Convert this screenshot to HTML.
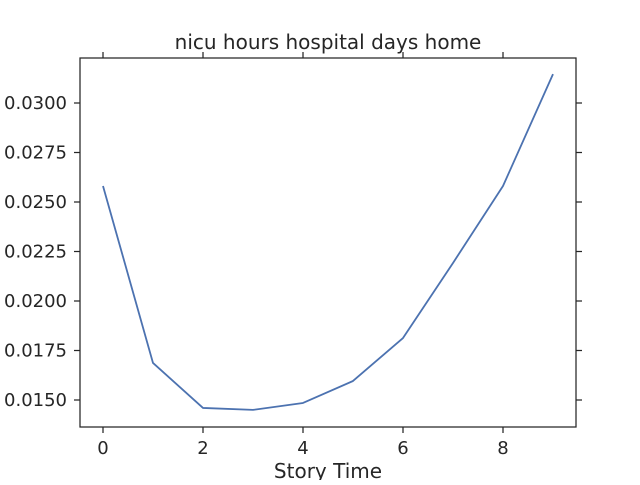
<!DOCTYPE html>
<html><head><meta charset="utf-8"><style>
html,body{margin:0;padding:0;background:#fff;}
svg text{font-family:"DejaVu Sans","Liberation Sans",sans-serif;fill:#262626;}
</style></head><body>
<svg id="chart" width="640" height="480" xmlns="http://www.w3.org/2000/svg">
<rect x="0" y="0" width="640" height="480" fill="#fff"/>
<g id="axes"></g>
</svg>
<script>
const xValues=[0,1,2,3,4,5,6,7,8,9];
const yValues=[0.02581,0.01687,0.0146,0.0145,0.01485,0.01596,0.01813,0.02192,0.02581,0.03146];
const xTicks=[0,2,4,6,8];
const yTicks=[0.0150,0.0175,0.0200,0.0225,0.0250,0.0275,0.0300];
const titleText="nicu hours hospital days home";
const xLabelText="Story Time";

const L=80,R=576,T=58,B=427;
const xs=v=>103+(v-0)*50;
const ys=v=>400-(v-0.015)/0.0025*49.5;
const NS="http://www.w3.org/2000/svg";
const g=document.getElementById('axes');
function mk(tag,attrs){const e=document.createElementNS(NS,tag);for(const k in attrs)e.setAttribute(k,attrs[k]);g.appendChild(e);return e;}

const frame=mk('rect',{x:L,y:T,width:R-L,height:B-T,fill:'none',stroke:'#262626','stroke-width':1.25});



xTicks.forEach(v=>{
  const x=xs(v);
  const t1=mk('line',{x1:x,x2:x,y1:B,y2:B+6,stroke:'#262626','stroke-width':1.25});
  
  
  const t2=mk('line',{x1:x,x2:x,y1:T,y2:T-6,stroke:'#262626','stroke-width':1.25});
  
  
  const lb=mk('text',{x:x,y:B+27,'text-anchor':'middle','font-size':18});
  lb.textContent=String(v);
  
  
});
yTicks.forEach(v=>{
  const y=ys(v);
  const t1=mk('line',{x1:L,x2:L-6,y1:y,y2:y,stroke:'#262626','stroke-width':1.25});
  
  
  const t2=mk('line',{x1:R,x2:R+6,y1:y,y2:y,stroke:'#262626','stroke-width':1.25});
  
  
  const lb=mk('text',{x:L-13,y:y+6,'text-anchor':'end','font-size':18});
  lb.textContent=v.toFixed(4);
  
  
});

const pts=xValues.map((v,i)=>xs(v)+','+ys(yValues[i])).join(' ');
const line=mk('polyline',{points:pts,fill:'none',stroke:'#4c72b0','stroke-width':1.8,'stroke-linejoin':'round'});



const title=mk('text',{x:(L+R)/2+0,y:49,'text-anchor':'middle','font-size':20});
title.textContent=titleText;


const xl=mk('text',{x:(L+R)/2,y:478,'text-anchor':'middle','font-size':20});
xl.textContent=xLabelText;


</script>
</body></html>
